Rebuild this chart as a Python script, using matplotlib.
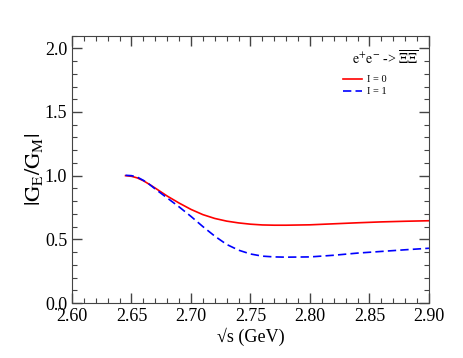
import matplotlib
matplotlib.use("Agg")
import matplotlib.pyplot as plt
from matplotlib.ticker import MultipleLocator

# |GE/GM| ratio for e+e- -> Xi Xibar, isospin 0 and 1
sqrt_s = [2.645, 2.650, 2.655, 2.660, 2.665, 2.670, 2.680, 2.690, 2.700, 2.710,
          2.720, 2.730, 2.740, 2.750, 2.760, 2.770, 2.780, 2.800, 2.820, 2.840,
          2.860, 2.880, 2.900]
ratio_i0 = [1.000, 0.995, 0.982, 0.960, 0.932, 0.902, 0.840, 0.785, 0.735, 0.694,
            0.664, 0.643, 0.629, 0.619, 0.613, 0.611, 0.611, 0.614, 0.622, 0.630,
            0.637, 0.642, 0.646]
ratio_i1 = [1.003, 1.000, 0.988, 0.963, 0.932, 0.895, 0.825, 0.755, 0.680, 0.600,
            0.525, 0.460, 0.415, 0.385, 0.368, 0.362, 0.360, 0.362, 0.375, 0.392,
            0.405, 0.418, 0.430]

plt.rcParams["font.family"] = ["Liberation Serif", "DejaVu Serif"]
plt.rcParams["mathtext.fontset"] = "stix"

fig = plt.figure(figsize=(4.63, 3.58), dpi=100)
ax = fig.add_axes([0.1555, 0.1536, 0.771, 0.747])

ax.plot(sqrt_s, ratio_i0, color="#ff0000", lw=1.2, label="I = 0")
ax.plot(sqrt_s, ratio_i1, color="#0000ff", lw=1.2, ls=(0, (5, 2.5)), label="I = 1")

ax.set_xlim(2.60, 2.90)
ax.set_ylim(0.0, 2.1)
ax.xaxis.set_major_locator(MultipleLocator(0.05))
ax.xaxis.set_minor_locator(MultipleLocator(0.01))
ax.yaxis.set_major_locator(MultipleLocator(0.5))
ax.yaxis.set_minor_locator(MultipleLocator(0.1))
ax.xaxis.set_major_formatter(plt.FormatStrFormatter("%.2f"))
ax.yaxis.set_major_formatter(plt.FormatStrFormatter("%.1f"))
ax.tick_params(which="both", direction="in", top=True, right=True, color="#444444", labelsize=13)
ax.tick_params(which="major", length=7, width=1)
ax.tick_params(which="minor", length=3.5, width=0.8)
for s in ax.spines.values():
    s.set_color("#444444")

ax.set_xlabel("\u221as (GeV)", fontsize=13, labelpad=2)
ax.set_ylabel(r"$|\mathrm{G_E/G_M}|$", fontsize=16, labelpad=0)

ax.text(0.877, 0.915, r"$\mathrm{e^{+}e^{-}}$ -> $\overline{\Xi\Xi}$", transform=ax.transAxes,
        fontsize=10, ha="center", va="center")
ax.legend(loc="upper left", bbox_to_anchor=(0.74, 0.88), frameon=False, fontsize=7.5,
          handlelength=1.8, handletextpad=0.5, labelspacing=0.25, borderpad=0.2)

fig.savefig("out.png", dpi=100)
